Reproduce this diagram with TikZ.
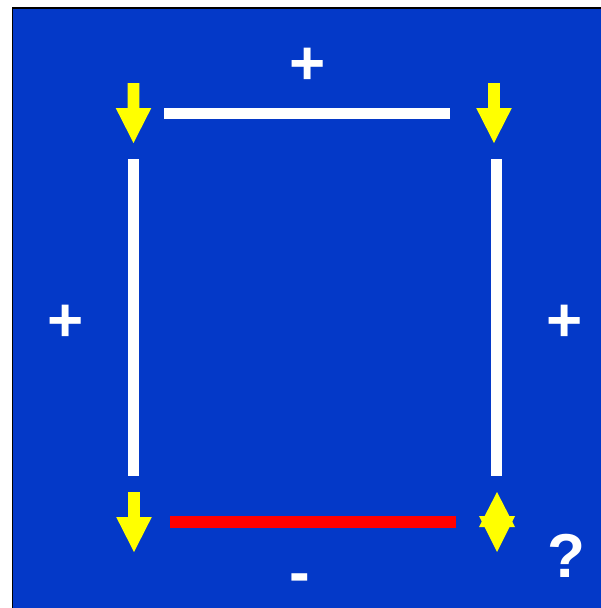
\documentclass[tikz,border=0pt]{standalone}
\usepackage{fontspec}
\setmainfont{Liberation Sans}
\definecolor{bgblue}{RGB}{4,57,200}
\definecolor{arrowyellow}{RGB}{255,255,0}
\definecolor{barred}{RGB}{255,0,0}
\tikzset{
  bar/.style={line width=11.5pt, white},
  redbar/.style={line width=11.5pt, barred},
  sign/.style={text=white, font=\fontsize{62}{62}\selectfont\bfseries, inner sep=0pt},
  downarrow/.pic={\fill[arrowyellow] (-5.8,0)--(5.8,0)--(5.8,25)--(17.8,25)--(0,60)--(-17.8,25)--(-5.8,25)--cycle;},
  updownarrow/.pic={\fill[arrowyellow] (0,0)--(18,35)--(-18,35)--cycle;
                    \fill[arrowyellow] (-18,24)--(18,24)--(0,60)--cycle;}
}
\begin{document}
\begin{tikzpicture}[x=1pt,y=-1pt]
\useasboundingbox (0,0) rectangle (601,608);
\fill[white] (0,0) rectangle (601,608);
\begin{scope}
\clip (0,0) rectangle (601,608);
\fill[bgblue, draw=black, line width=1.4pt] (12.5,8) rectangle (615,620);
\end{scope}
% corners of the square
\coordinate (tl1) at (164,113.5);
\coordinate (tr1) at (450,113.5);
\coordinate (lt) at (133.5,159);
\coordinate (lb) at (133.5,476);
\coordinate (rt) at (496.5,159);
\coordinate (rb) at (496.5,476);
\coordinate (bl1) at (169.5,521.8);
\coordinate (br1) at (456,521.8);
\draw[bar] (tl1) -- (tr1);
\draw[bar] (lt) -- (lb);
\draw[bar] (rt) -- (rb);
\draw[redbar] (bl1) -- (br1);
% arrows
\pic (atl) at (133.5,83) {downarrow};
\pic (atr) at (494,83) {downarrow};
\pic (abl) at (134,492) {downarrow};
\pic (abr) at (497,492) {updownarrow};
% signs
\node[sign] (ptop) at (308,66.5) {+};
\node[sign] (pleft) at (66,323.5) {+};
\node[sign] (pright) at (565,323.5) {+};
\node[sign] (mbot) at (300,584) {-};
\node[sign] (q) at (566,556) {?};
\end{tikzpicture}
\end{document}
